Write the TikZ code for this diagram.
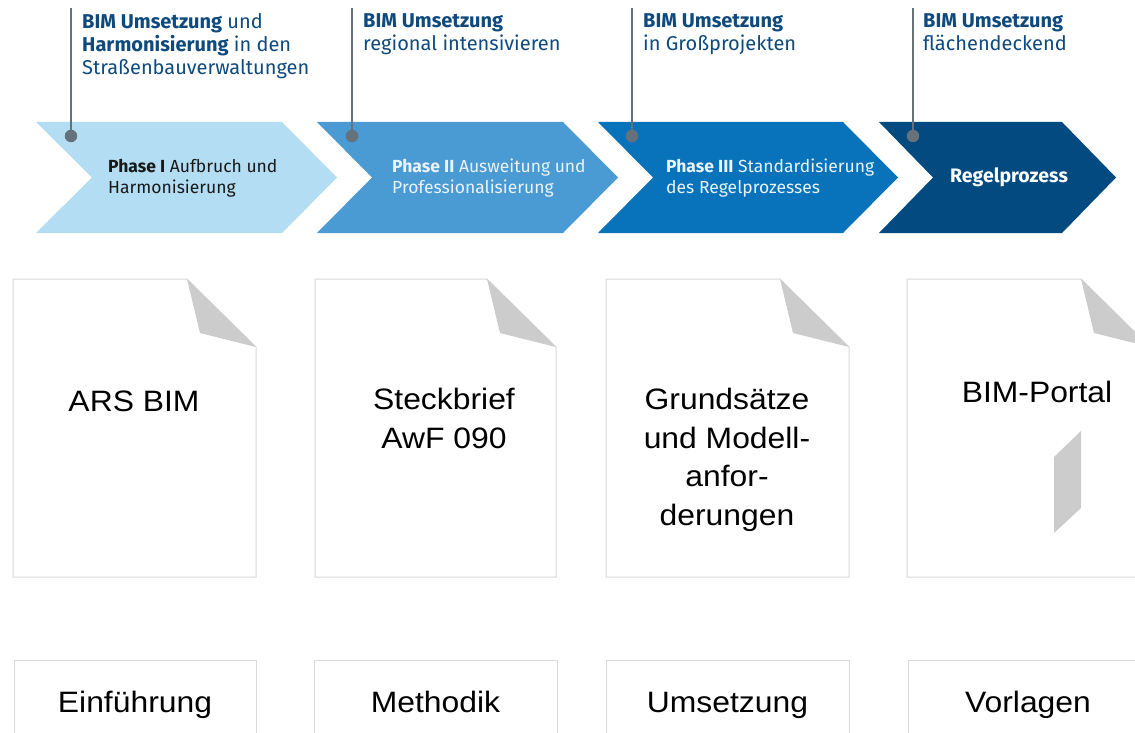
\documentclass[tikz,border=0pt]{standalone}
\usepackage{fontspec}
\setmainfont{Fira Sans}
\newfontfamily\docfont[FakeStretch=1.08]{Liberation Sans}
\definecolor{chA}{HTML}{B3DDF3}
\definecolor{chB}{HTML}{4A9AD3}
\definecolor{chC}{HTML}{0872BA}
\definecolor{chD}{HTML}{024A80}
\definecolor{hdr}{HTML}{0E4A7E}
\definecolor{pin}{HTML}{66717B}
\definecolor{docline}{HTML}{DADADA}
\definecolor{fold}{HTML}{CCCCCC}
\definecolor{lighttext}{HTML}{EAF3FA}
\tikzset{
  hdrtext/.style={anchor=north west, inner sep=0pt, align=left, text=hdr,
    font=\fontsize{20}{23}\selectfont},
  chevtext/.style={anchor=west, inner sep=0pt, align=left,
    font=\fontsize{17.5}{20.5}\selectfont},
  pinline/.style={draw=pin, line width=2pt},
  pindot/.style={circle, fill=pin, minimum size=12.5pt, inner sep=0pt},
  docborder/.style={draw=docline, line width=1pt, fill=white},
  foldfill/.style={fill=fold},
  doctext/.style={inner sep=0pt, align=center, text=black,
    font=\docfont\fontsize{29.5}{38.5}\selectfont},
}
\begin{document}
\begin{tikzpicture}[x=1pt, y=-1pt]
\useasboundingbox (0,0) rectangle (1135,733);
\fill[white] (0,0) rectangle (1135,733);

% chevrons
\fill[chA] (36,122) -- (282,122) -- (337,177.5) -- (282,233) -- (36,233) -- (92,177.5) -- cycle;
\fill[chB] (317,122) -- (563,122) -- (618,177.5) -- (563,233) -- (317,233) -- (372,177.5) -- cycle;
\fill[chC] (598,122) -- (843,122) -- (898,177.5) -- (843,233) -- (598,233) -- (653,177.5) -- cycle;
\fill[chD] (879,122) -- (1062,122) -- (1116,177.5) -- (1062,233) -- (879,233) -- (933,177.5) -- cycle;

% pins
\coordinate (t1) at (71,8);
\coordinate (t2) at (352,8);
\coordinate (t3) at (632,8);
\coordinate (t4) at (913,8);
\node[pindot] (p1) at (71,136) {};
\node[pindot] (p2) at (352,136) {};
\node[pindot] (p3) at (632,136) {};
\node[pindot] (p4) at (913,136) {};
\draw[pinline] (t1) -- (p1.center);
\draw[pinline] (t2) -- (p2.center);
\draw[pinline] (t3) -- (p3.center);
\draw[pinline] (t4) -- (p4.center);

% header texts
\node[hdrtext] (h1) at (82,13.5) {\textbf{BIM Umsetzung} und\\\textbf{Harmonisierung} in den\\Straßenbauverwaltungen};
\node[hdrtext] (h2) at (363,13.5) {\textbf{BIM Umsetzung}\\regional intensivieren};
\node[hdrtext] (h3) at (643,13.5) {\textbf{BIM Umsetzung}\\in Großprojekten};
\node[hdrtext] (h4) at (923,13.5) {\textbf{BIM Umsetzung}\\flächendeckend};

% chevron texts
\node[chevtext, text=black!90] (c1) at (108,178) {\textbf{Phase I} Aufbruch und\\Harmonisierung};
\node[chevtext, text=lighttext] (c2) at (392,178) {\textbf{Phase II} Ausweitung und\\Professionalisierung};
\node[chevtext, text=lighttext] (c3) at (666,178) {\textbf{Phase III} Standardisierung\\des Regelprozesses};
\node[chevtext, text=white, font=\bfseries\fontsize{19.5}{22}\selectfont] (c4) at (950,177) {Regelprozess};

% documents
\draw[docborder] (13,279) -- (187,279) -- (256,347) -- (256,577) -- (13,577) -- cycle;
\fill[foldfill] (187,279) -- (200,333) -- (256,347) -- cycle;
\draw[docborder] (315,279) -- (487,279) -- (556,347) -- (556,577) -- (315,577) -- cycle;
\fill[foldfill] (487,279) -- (500,333) -- (556,347) -- cycle;
\draw[docborder] (606,279) -- (780,279) -- (849,347) -- (849,577) -- (606,577) -- cycle;
\fill[foldfill] (780,279) -- (793,333) -- (849,347) -- cycle;
\draw[docborder] (907,279) -- (1081,279) -- (1150,347) -- (1150,577) -- (907,577) -- cycle;
\fill[foldfill] (1081,279) -- (1094,333) -- (1150,347) -- cycle;
\fill[foldfill] (1054,457) -- (1081,431) -- (1081,508) -- (1054,533) -- cycle;

\node[doctext, anchor=base] (d1) at (134,411) {ARS BIM};
\node[doctext, anchor=north] (d2) at (444,388.4) {Steckbrief\\AwF 090};
\node[doctext, anchor=north] (d3) at (727,388.4) {Grundsätze\\und Modell-\\anfor-\\derungen};
\node[doctext, anchor=base] (d4) at (1037,402) {BIM-Portal};

% bottom boxes
\draw[docborder] (14,660) rectangle (256,760);
\draw[docborder] (314,660) rectangle (557,760);
\draw[docborder] (606,660) rectangle (849,760);
\draw[docborder] (908,660) rectangle (1150,760);
\node[doctext, anchor=base] (b1) at (135,712) {Einführung};
\node[doctext, anchor=base] (b2) at (435.5,712) {Methodik};
\node[doctext, anchor=base] (b3) at (727.5,712) {Umsetzung};
\node[doctext, anchor=base] (b4) at (1028,712) {Vorlagen};
\end{tikzpicture}
\end{document}
